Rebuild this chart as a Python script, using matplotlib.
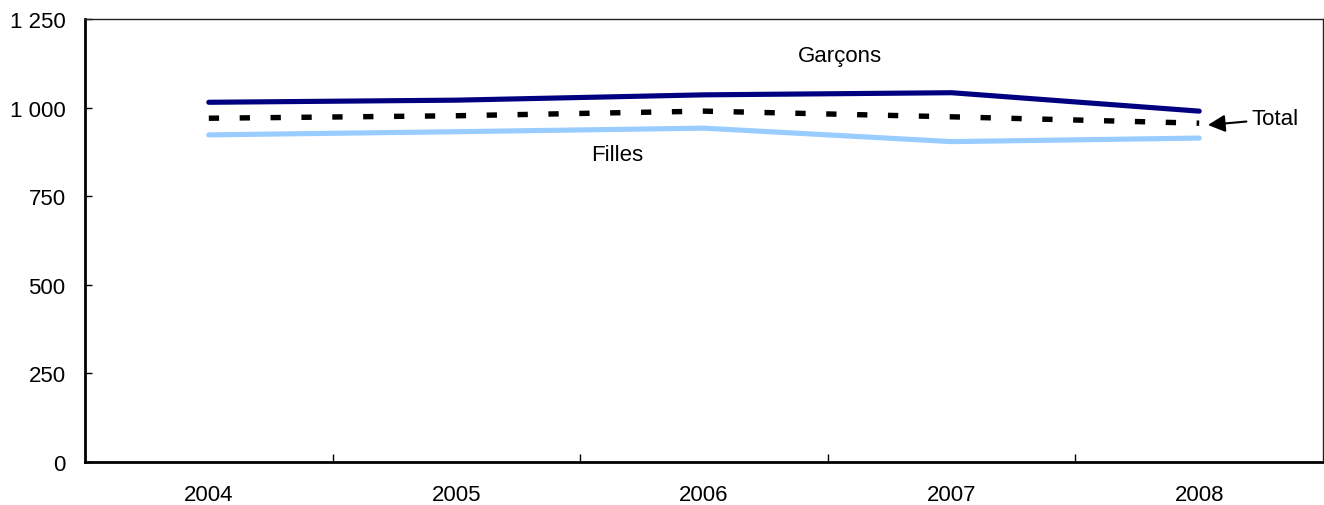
import numpy as np
import matplotlib
matplotlib.use("Agg")
import matplotlib.pyplot as plt
from matplotlib.ticker import FuncFormatter

years = ["2004", "2005", "2006", "2007", "2008"]
garcons = [1015, 1021, 1036, 1042, 990]
total = [970, 977, 990, 974, 956]
filles = [923, 932, 942, 904, 914]

plt.rcParams['font.family'] = ['Liberation Sans', 'DejaVu Sans']
fs = 16

fig = plt.figure(figsize=(13.24, 5.06), dpi=100)
ax = fig.add_axes([85/1324, 1 - 463/506, 1238/1324, 443/506])

x = np.arange(len(years))
ax.plot(x, garcons, color='#000080', lw=3.7, solid_capstyle='round')
ax.plot(x, filles, color='#99CCFF', lw=3.7, solid_capstyle='round')
ax.plot(x, total, color='black', lw=3.9, linestyle=(0, (1.9, 3.8)), dash_capstyle='butt')

ax.set_xlim(-0.5, len(years) - 0.5)
ax.set_ylim(0, 1250)
ax.set_yticks(np.arange(0, 1251, 250))
ax.yaxis.set_major_formatter(FuncFormatter(lambda v, p: f"{int(v):,}".replace(",", " ")))
ax.set_xticks(x)
ax.set_xticklabels(years)
ax.set_xticks(x[:-1] + 0.5, minor=True)

ax.tick_params(axis='x', which='major', length=0, pad=16, labelsize=fs)
ax.tick_params(axis='x', which='minor', direction='in', length=6, width=1)
ax.tick_params(axis='y', direction='in', length=5, width=1, pad=14, labelsize=fs)

for s in ['left', 'bottom']:
    ax.spines[s].set_linewidth(2)
    ax.spines[s].set_color('black')
for s in ['top', 'right']:
    ax.spines[s].set_linewidth(1)
    ax.spines[s].set_color('#222222')

ax.text(2.549, 1148, "Garçons", fontsize=fs, ha='center', va='center')
ax.text(1.649, 869, "Filles", fontsize=fs, ha='center', va='center')
ax.annotate("Total", xy=(4.035, 951), xytext=(4.213, 968), fontsize=fs,
            ha='left', va='center',
            arrowprops=dict(arrowstyle='-|>', color='black', lw=1.5,
                            mutation_scale=26, shrinkA=2, shrinkB=0))

fig.savefig("out.png", dpi=100)
